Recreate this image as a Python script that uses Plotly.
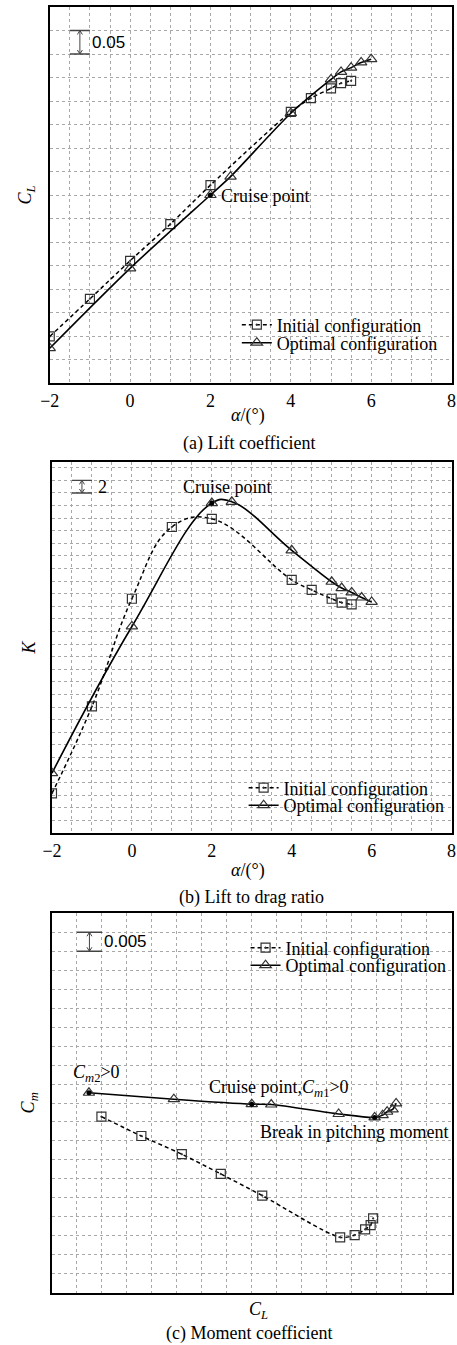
import plotly.graph_objects as go

# ---------------- data ----------------
alpha_init = [-2, -1, 0, 1, 2, 4, 4.5, 5, 5.25, 5.5]
CL_init = [0.099, 0.179, 0.260, 0.338, 0.421, 0.577, 0.606, 0.627, 0.638, 0.643]
K_init = [6.3, 20.1, 37.2, 48.6, 49.9, 40.2, 38.6, 37.2, 36.6, 36.3]
Cm_init = [0.0064, 0.0013, -0.0035, -0.0087, -0.0144, -0.0254, -0.0248, -0.0233, -0.0222, -0.0204]

alpha_opt = [-2, 0, 2, 2.5, 4, 5, 5.25, 5.5, 5.75, 6]
CL_opt = [0.074, 0.244, 0.400, 0.439, 0.574, 0.646, 0.662, 0.671, 0.682, 0.689]
K_opt = [9.5, 32.8, 52.4, 52.6, 44.9, 39.9, 38.9, 38.2, 37.4, 36.7]
Cm_opt = [0.0127, 0.0110, 0.0097, 0.0096, 0.0071, 0.0062, 0.0068, 0.0077, 0.0083, 0.0099]

x_ticks = [-2, 0, 2, 4, 6, 8]
cruise_idx = 2             # cruise point in the optimal series
special_idx_c = [0, 2, 5]  # Cm2>0, cruise point, break in pitching moment

series_names = ["Initial configuration", "Optimal configuration"]
panel_captions = ["(a) Lift coefficient", "(b) Lift to drag ratio", "(c) Moment coefficient"]

# ---------------- styling ----------------
W, H = 457, 1345
SERIF = "Liberation Serif, Times New Roman, serif"
SANS = "Liberation Sans, Arial, sans-serif"
GRID = "#a8a8a8"


def px_x(p):
    return p / W


def px_y(p):
    return 1 - p / H


fig = go.Figure()


def add_pair(xi, yi, xo, yo, xa, ya, leg_i, leg_o, smooth):
    fig.add_trace(go.Scatter(
        x=xi, y=yi, mode="lines+markers", name=series_names[0],
        line=dict(color="black", width=1.5, dash="4px,3px", shape="spline", smoothing=smooth),
        marker=dict(symbol="square-open-dot", size=9, color="#333333", line=dict(width=1.2)),
        xaxis=xa, yaxis=ya, legend=leg_i))
    fig.add_trace(go.Scatter(
        x=xo, y=yo, mode="lines+markers", name=series_names[1],
        line=dict(color="black", width=1.6, shape="spline", smoothing=smooth),
        marker=dict(symbol="triangle-up-open", size=10, color="#333333", line=dict(width=1.2)),
        xaxis=xa, yaxis=ya, legend=leg_o))


add_pair(alpha_init, CL_init, alpha_opt, CL_opt, "x", "y", "legend", "legend2", 0.8)
add_pair(alpha_init, K_init, alpha_opt, K_opt, "x2", "y2", "legend3", "legend4", 1.2)
add_pair(CL_init, Cm_init, CL_opt, Cm_opt, "x3", "y3", "legend5", "legend6", 0.8)

# filled highlight dots
dot = dict(color="black", size=5)
fig.add_trace(go.Scatter(x=[alpha_opt[cruise_idx]], y=[CL_opt[cruise_idx]], mode="markers",
                         marker=dot, showlegend=False, xaxis="x", yaxis="y"))
fig.add_trace(go.Scatter(x=[alpha_opt[cruise_idx]], y=[K_opt[cruise_idx]], mode="markers",
                         marker=dot, showlegend=False, xaxis="x2", yaxis="y2"))
fig.add_trace(go.Scatter(x=[CL_opt[i] for i in special_idx_c], y=[Cm_opt[i] for i in special_idx_c],
                         mode="markers", marker=dot, showlegend=False, xaxis="x3", yaxis="y3"))

# ---------------- axes ----------------
frame = dict(showline=True, linecolor="black", linewidth=2, mirror=True, zeroline=False,
             showgrid=True, gridcolor=GRID, griddash="dot", gridwidth=1, ticks="")

xa_common = dict(frame, range=[-2, 8], tickmode="array", tickvals=x_ticks,
                 ticklabeloverflow="allow",
                 tickfont=dict(family=SERIF, size=18, color="black"),
                 minor=dict(dtick=0.5, tick0=-2, showgrid=True, gridcolor=GRID, griddash="dot", gridwidth=1))

fig.update_layout(
    xaxis=dict(xa_common, domain=[px_x(41), px_x(455.5)], anchor="y"),
    yaxis=dict(frame, domain=[px_y(383), px_y(7)], range=[0, 0.8], dtick=0.05, tick0=0,
               showticklabels=False, anchor="x"),
    xaxis2=dict(xa_common, domain=[px_x(43.3), px_x(455.5)], anchor="y2"),
    yaxis2=dict(frame, domain=[px_y(833), px_y(461.5)], range=[0, 59], dtick=2, tick0=0,
                showticklabels=False, anchor="x2"),
    xaxis3=dict(frame, domain=[px_x(43.3), px_x(455.5)], range=[0, 0.8], dtick=0.05, tick0=0,
                showticklabels=False, anchor="y3"),
    yaxis3=dict(frame, domain=[px_y(1292.7), px_y(913.3)], range=[-0.04, 0.06], dtick=0.005, tick0=0,
                showticklabels=False, anchor="x3"),
)

leg_common = dict(bgcolor="rgba(0,0,0,0)", borderwidth=0, xanchor="left", yanchor="middle",
                  font=dict(family=SERIF, size=18, color="black"), tracegroupgap=0)
fig.update_layout(
    legend=dict(leg_common, x=px_x(234), y=px_y(325)),
    legend2=dict(leg_common, x=px_x(234), y=px_y(343)),
    legend3=dict(leg_common, x=px_x(241), y=px_y(788)),
    legend4=dict(leg_common, x=px_x(241), y=px_y(805.5)),
    legend5=dict(leg_common, x=px_x(243), y=px_y(948)),
    legend6=dict(leg_common, x=px_x(243), y=px_y(965.5)),
)

# ---------------- scale bars ----------------
shapes = []
anns = []
BAR = "#444444"


def scale_bar(xr, yr, x0, x1, ylo, yhi, label, lx, font):
    for yy in (ylo, yhi):
        shapes.append(dict(type="line", xref=xr, yref=yr, x0=x0, x1=x1, y0=yy, y1=yy,
                           line=dict(color=BAR, width=1.3)))
    xm = (x0 + x1) / 2
    shapes.append(dict(type="line", xref=xr, yref=yr, x0=xm, x1=xm, y0=ylo, y1=yhi,
                       line=dict(color=BAR, width=1)))
    # small arrow heads (pixel-sized, anchored at the bar ends)
    shapes.append(dict(type="path", xref=xr, yref=yr, xsizemode="pixel", ysizemode="pixel",
                       xanchor=xm, yanchor=yhi, path="M-2.5,-4 L0,0 L2.5,-4",
                       line=dict(color=BAR, width=1)))
    shapes.append(dict(type="path", xref=xr, yref=yr, xsizemode="pixel", ysizemode="pixel",
                       xanchor=xm, yanchor=ylo, path="M-2.5,4 L0,0 L2.5,4",
                       line=dict(color=BAR, width=1)))
    anns.append(dict(xref=xr, yref=yr, x=lx, y=(ylo + yhi) / 2, text=label, showarrow=False,
                     xanchor="left", yanchor="middle", font=font))


scale_bar("x", "y", -1.5, -1.0, 0.70, 0.75, "0.05", -1.0, dict(family=SANS, size=17, color="black"))
scale_bar("x2", "y2", -1.5, -1.0, 54, 56, "2", -0.9, dict(family=SERIF, size=18, color="black"))
scale_bar("x3", "y3", 0.05, 0.10, 0.050, 0.055, "0.005", 0.1, dict(family=SANS, size=17, color="black"))

# ---------------- text annotations ----------------
tf = dict(family=SERIF, size=18, color="black")
anns += [
    dict(xref="x", yref="y", x=2.2, y=0.397, text="Cruise point", showarrow=False,
         xanchor="left", yanchor="middle", font=tf),
    dict(xref="x2", yref="y2", x=2.4, y=55.0, text="Cruise point", showarrow=False,
         xanchor="center", yanchor="middle", font=tf),
    dict(xref="x3", yref="y3", x=0.038, y=0.0178, text="<i>C</i><sub><i>m</i>2</sub>>0", showarrow=False,
         xanchor="left", yanchor="middle", font=tf),
    dict(xref="x3", yref="y3", x=0.31, y=0.0139, text="Cruise point,<i>C</i><sub><i>m</i>1</sub>>0",
         showarrow=False, xanchor="left", yanchor="middle", font=tf),
    dict(xref="x3", yref="y3", x=0.412, y=0.0024, text="Break in pitching moment", showarrow=False,
         xanchor="left", yanchor="middle", font=tf),
]


# axis titles and captions (paper coordinates)
def ptext(x, y, text, angle=0):
    return dict(xref="paper", yref="paper", x=px_x(x), y=px_y(y), text=text, showarrow=False,
                xanchor="center", yanchor="middle", textangle=angle, font=tf)


anns += [
    ptext(17, 195, "<i>C<sub>L</sub></i>", -90),
    ptext(20, 647, "<i>K</i>", -90),
    ptext(20, 1103, "<i>C<sub>m</sub></i>", -90),
    ptext(246, 415, "<i>α</i>/(°)"),
    ptext(246, 870, "<i>α</i>/(°)"),
    ptext(256, 1310, "<i>C<sub>L</sub></i>"),
    ptext(247, 443, panel_captions[0]),
    ptext(249, 897, panel_captions[1]),
    ptext(247, 1333, panel_captions[2]),
]

fig.update_layout(
    width=W, height=H, margin=dict(l=0, r=0, t=0, b=0),
    paper_bgcolor="white", plot_bgcolor="white",
    font=dict(family=SERIF, color="black"),
    shapes=shapes, annotations=anns,
)

fig.write_html("out.html")
